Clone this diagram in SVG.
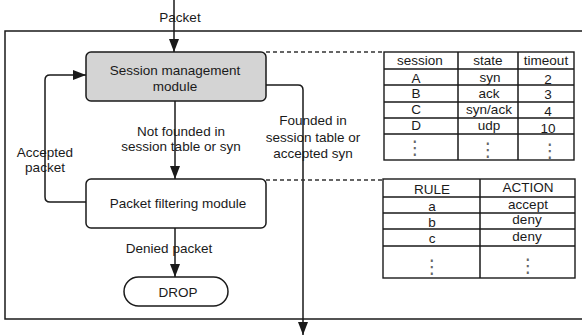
<svg xmlns="http://www.w3.org/2000/svg" width="582" height="336" viewBox="0 0 582 336">
<style>
text{font-family:"Liberation Sans",Arial,sans-serif;font-size:13.5px;fill:#1a1a1a;text-anchor:middle}
.ln{fill:none;stroke:#1a1a1a;stroke-width:1.5}
.dash{fill:none;stroke:#333;stroke-width:1.3;stroke-dasharray:4 3}
.box{stroke:#1a1a1a;stroke-width:1.5}
.tb{fill:#fff;stroke:#1a1a1a;stroke-width:1.4}
.dot{font-family:"DejaVu Sans",sans-serif;font-size:19px;fill:#666}
</style>
<defs>
<marker id="ah" markerUnits="userSpaceOnUse" markerWidth="14" markerHeight="11" refX="13" refY="5" orient="auto">
<path d="M0,0 L13,5 L0,10 Z" fill="#1a1a1a"/>
</marker>
</defs>
<rect x="0" y="0" width="582" height="336" fill="#fff"/>
<g id="frame"><rect x="5" y="31" width="600" height="288" class="ln"/></g>

<g id="connectors">
<path class="ln" d="M174,0 V52" marker-end="url(#ah)"/>
<path class="ln" d="M175,101 V179" marker-end="url(#ah)"/>
<path class="ln" d="M175,228 V277" marker-end="url(#ah)"/>
<path class="ln" d="M86,202 H50 Q45,202 45,197 V80 Q45,75 50,75 H86" marker-end="url(#ah)"/>
<path class="ln" d="M266,85 H298 Q303,85 303,90 V335" marker-end="url(#ah)"/>
<path class="dash" d="M266,52 H384"/>
<path class="dash" d="M266,180 H383"/>
<text x="180" y="22">Packet</text>
<text x="181" y="136">Not founded in</text>
<text x="181" y="151">session table or syn</text>
<text x="45" y="157">Accepted</text>
<text x="45" y="172">packet</text>
<text x="313" y="125">Founded in</text>
<text x="313" y="142">session table or</text>
<text x="313" y="158">accepted syn</text>
<text x="169" y="253">Denied packet</text>
</g>

<g id="session">
<rect x="86" y="52" width="180" height="49" rx="5" class="box" fill="#d4d4d4"/>
<text x="175" y="75">Session management</text>
<text x="175" y="91">module</text>
</g>

<g id="filter">
<rect x="86" y="179" width="180" height="49" rx="5" class="box" fill="#fff"/>
<text x="178" y="208">Packet filtering module</text>
</g>

<g id="drop">
<rect x="124" y="277" width="104" height="29" rx="14.5" class="box" fill="#fff"/>
<text x="178" y="297">DROP</text>
</g>

<g id="session-table">
<rect x="384" y="52" width="190" height="108" class="tb"/>
<path class="ln" d="M458,52 V160 M518,52 V160 M384,69 H574 M384,85 H574 M384,102 H574 M384,118 H574 M384,134 H574"/>
<text x="420" y="65">session</text>
<text x="488" y="65">state</text>
<text x="546" y="65">timeout</text>
<text x="416" y="83">A</text>
<text x="490" y="82">syn</text>
<text x="548" y="84">2</text>
<text x="416" y="98">B</text>
<text x="489" y="98">ack</text>
<text x="548" y="99">3</text>
<text x="416" y="114">C</text>
<text x="489" y="114">syn/ack</text>
<text x="548" y="116">4</text>
<text x="416" y="130">D</text>
<text x="489" y="130">udp</text>
<text x="548" y="133">10</text>
<text class="dot" x="415" y="154">⋮</text>
<text class="dot" x="488" y="156">⋮</text>
<text class="dot" x="550" y="157">⋮</text>
</g>

<g id="rule-table">
<rect x="383" y="179" width="192" height="99" class="tb"/>
<path class="ln" d="M480,179 V278 M383,197 H575 M383,213 H575 M383,229 H575 M383,246 H575"/>
<text x="432" y="194">RULE</text>
<text x="528" y="192">ACTION</text>
<text x="432" y="211">a</text>
<text x="528" y="209">accept</text>
<text x="432" y="227">b</text>
<text x="527" y="224">deny</text>
<text x="432" y="243">c</text>
<text x="527" y="241">deny</text>
<text class="dot" x="432" y="273">⋮</text>
<text class="dot" x="528" y="272">⋮</text>
</g>
</svg>
